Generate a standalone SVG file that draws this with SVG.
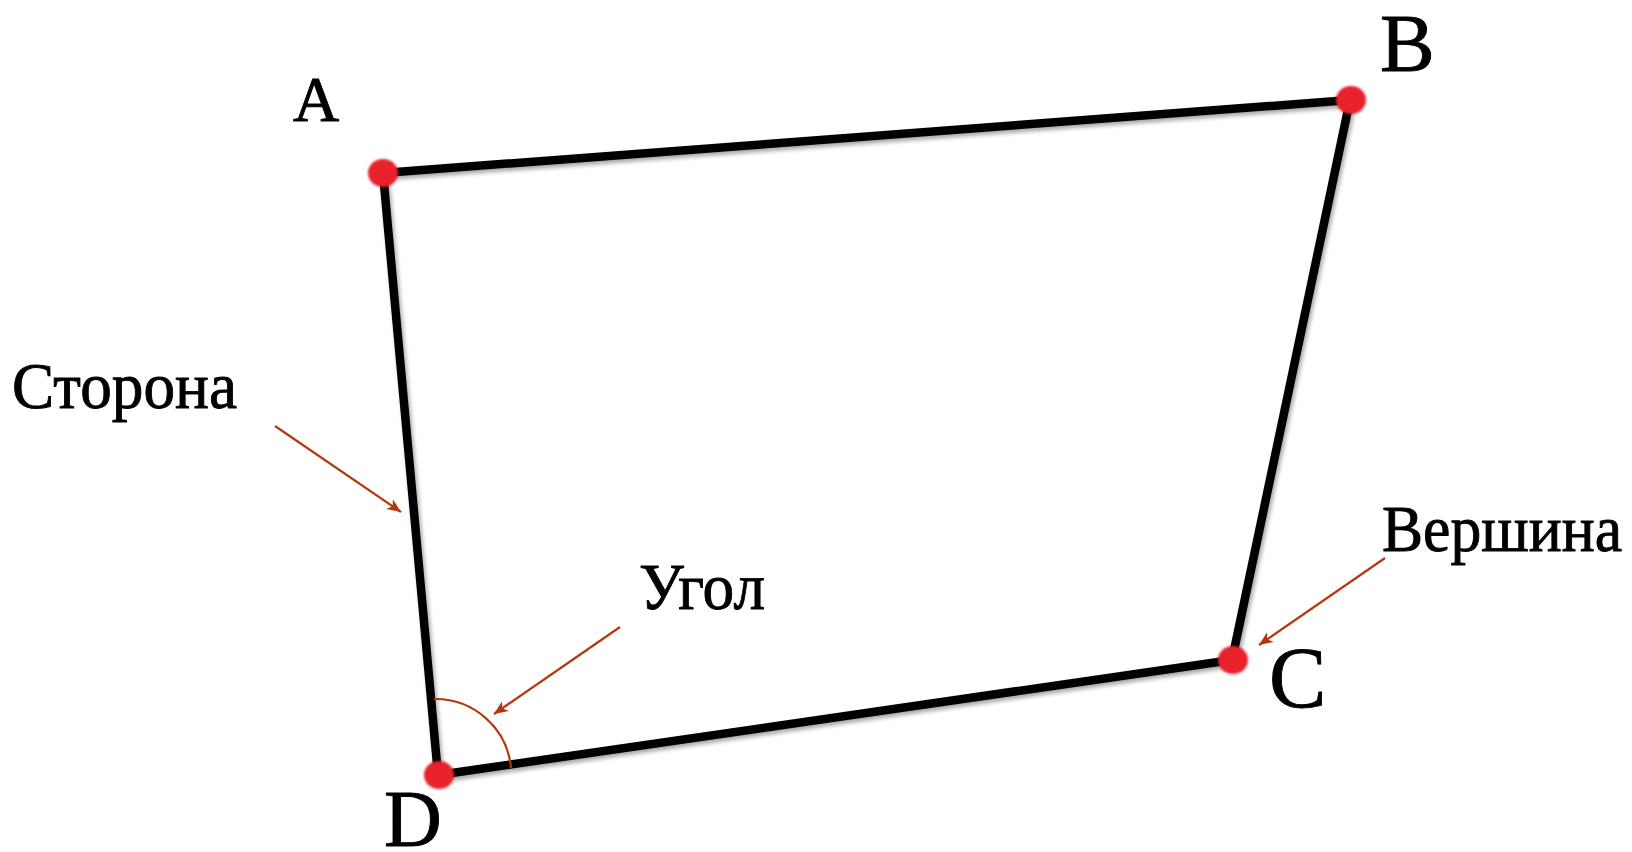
<svg xmlns="http://www.w3.org/2000/svg" width="1632" height="852" viewBox="0 0 1632 852">
  <style>
    text { font-family: 'Liberation Serif', 'Times New Roman', serif; fill: #000; stroke: #000; stroke-width: 0.9; }
    .edge { stroke: #000; stroke-width: 8.5; fill: none; stroke-linecap: round; stroke-linejoin: round; }
    .vtx { fill: #E8212A; }
    .ptr { stroke: #B3380E; stroke-width: 2.2; fill: none; }
  </style>
  <defs>
    <marker id="ah" markerUnits="userSpaceOnUse" markerWidth="16" markerHeight="12" refX="14" refY="6" orient="auto">
      <path d="M0,0 L14,6 L0,12 L4,6 Z" fill="#B3380E"/>
    </marker>
    <filter id="shadow" x="-10%" y="-10%" width="120%" height="120%">
      <feGaussianBlur in="SourceAlpha" stdDeviation="2"/>
      <feOffset dx="2" dy="3" result="b"/>
      <feComponentTransfer><feFuncA type="linear" slope="0.35"/></feComponentTransfer>
      <feMerge><feMergeNode/><feMergeNode in="SourceGraphic"/></feMerge>
    </filter>
    <filter id="soft" x="-30%" y="-30%" width="160%" height="160%">
      <feGaussianBlur stdDeviation="1"/>
    </filter>
  </defs>

  <g id="quad" filter="url(#shadow)">
    <path class="edge" d="M383,173 L1350,100 L1232,660 L438,775 Z"/>
  </g>

  <g id="vertex-A"><ellipse class="vtx" cx="383" cy="173" rx="15" ry="14" filter="url(#soft)"/><text x="293" y="121" font-size="64">A</text></g>
  <g id="vertex-B"><ellipse class="vtx" cx="1351" cy="100" rx="15" ry="14" filter="url(#soft)"/><text x="1380" y="71" font-size="82">B</text></g>
  <g id="vertex-C"><ellipse class="vtx" cx="1233" cy="660" rx="15" ry="14" filter="url(#soft)"/><text x="1269" y="707" font-size="86">C</text></g>
  <g id="vertex-D"><ellipse class="vtx" cx="439" cy="775" rx="15" ry="14" filter="url(#soft)"/><text x="384" y="846" font-size="80">D</text></g>

  <g id="label-side"><text x="12" y="408" font-size="66" textLength="225" lengthAdjust="spacingAndGlyphs">Сторона</text></g>
  <g id="label-angle"><text x="639" y="609" font-size="66" textLength="126" lengthAdjust="spacingAndGlyphs">Угол</text></g>
  <g id="label-vertex"><text x="1382" y="551" font-size="66" textLength="240" lengthAdjust="spacingAndGlyphs">Вершина</text></g>

  <g id="angle-arc">
    <path class="ptr" d="M434,699 A76,76 0 0 1 511,768"/>
  </g>

  <g id="connectors">
    <line class="ptr" x1="275" y1="426" x2="401" y2="512" marker-end="url(#ah)"/>
    <line class="ptr" x1="620" y1="627" x2="494" y2="714" marker-end="url(#ah)"/>
    <line class="ptr" x1="1385" y1="558" x2="1259" y2="645" marker-end="url(#ah)"/>
  </g>
</svg>
